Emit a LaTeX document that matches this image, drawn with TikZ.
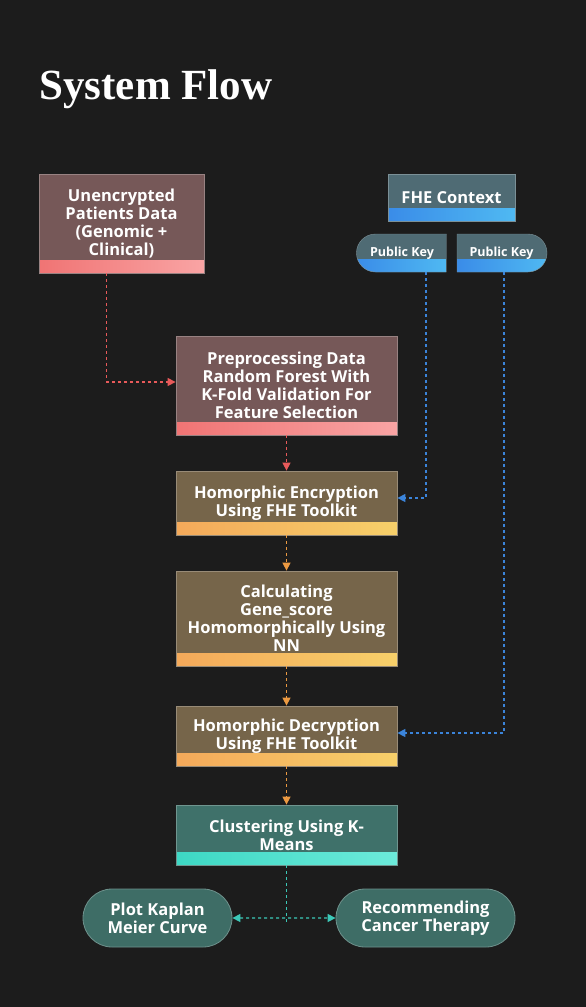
\documentclass[tikz,border=0pt]{standalone}
\usepackage{fontspec}
\setmainfont{Open Sans}
\newfontfamily\titlefont{Liberation Serif}
\usetikzlibrary{positioning,shapes.misc,arrows.meta}
\definecolor{bgcol}{HTML}{1C1C1C}
\definecolor{mauve}{HTML}{765858}
\definecolor{olive}{HTML}{76654A}
\definecolor{slate}{HTML}{4F6B74}
\definecolor{tealbox}{HTML}{3F716A}
\definecolor{tealoval}{HTML}{3E6D66}
\definecolor{pinkA}{HTML}{F07474}
\definecolor{pinkB}{HTML}{F9A4A4}
\definecolor{orangeA}{HTML}{F4A95A}
\definecolor{orangeB}{HTML}{F7D06A}
\definecolor{blueA}{HTML}{3A8CE8}
\definecolor{blueB}{HTML}{4FB9F2}
\definecolor{cyanA}{HTML}{3DD8C4}
\definecolor{cyanB}{HTML}{6CEADA}
\definecolor{redline}{HTML}{E85A5A}
\definecolor{blueline}{HTML}{3B84DA}
\definecolor{orangeline}{HTML}{EC9A42}
\definecolor{tealline}{HTML}{3CC9B8}

\begin{document}
\begin{tikzpicture}[x=1pt, y=-1pt,
		txt/.style={text=white, inner sep=0pt, align=center, font=\fontsize{16.5}{18}\selectfont\bfseries},
		stripe/.style 2 args={path picture={\shade[left color=#1, right color=#2]
			([yshift=13pt]path picture bounding box.south west) rectangle (path picture bounding box.south east);}},
		stepbox/.style={txt, draw=#1!75!white, line width=.8pt, fill=#1, minimum width=221pt},
		keybox/.style={txt, rounded rectangle, draw=slate!75!white, fill=slate, minimum width=90pt,
			minimum height=38pt, font=\fontsize{12.5}{15}\selectfont\bfseries, stripe={blueA}{blueB}},
		oval/.style={txt, rounded rectangle, draw=tealoval!75!white, line width=.8pt, fill=tealoval, minimum height=58pt},
		flow/.style={#1, line width=1.4pt, dash pattern=on 3pt off 3pt, -{Triangle[length=8pt, width=8pt]}}]
	\fill[bgcol] (0,0) rectangle (586,1007);
	\node[anchor=base west, text=white, font=\titlefont\fontsize{43}{43}\selectfont\bfseries] (title) at (36,99) {System Flow};
	% input side
	\node[stepbox=mauve, minimum width=165pt, minimum height=99pt, stripe={pinkA}{pinkB}] (raw) at (121.5,223.5) {Unencrypted\\Patients Data\\(Genomic +\\Clinical)};
	\node[stepbox=slate, minimum width=127pt, minimum height=47pt, stripe={blueA}{blueB}] (ctx) at (451.5,197.5) {FHE Context};
	\node[keybox, rounded rectangle right arc=none] (pkA) at (402,253) {Public Key};
	\node[keybox, rounded rectangle left arc=none] (pkB) at (501.5,253) {Public Key};
	% main column
	\node[stepbox=mauve, minimum height=99pt, stripe={pinkA}{pinkB}] (prep) at (286.5,385.5) {Preprocessing Data\\Random Forest With\\K-Fold Validation For\\Feature Selection};
	\node[stepbox=olive, minimum height=64pt, stripe={orangeA}{orangeB}] (enc) at (286.5,503) {Homorphic Encryption\\Using FHE Toolkit};
	\node[stepbox=olive, minimum height=95pt, stripe={orangeA}{orangeB}] (score) at (286.5,618.5) {Calculating\\Gene\_score\\Homomorphically Using\\NN};
	\node[stepbox=olive, minimum height=60pt, stripe={orangeA}{orangeB}] (dec) at (286.5,736) {Homorphic Decryption\\Using FHE Toolkit};
	\node[stepbox=tealbox, minimum height=60pt, stripe={cyanA}{cyanB}] (clust) at (286.5,835) {Clustering Using K-\\Means};
	\node[oval, minimum width=149pt] (km) at (157.5,918) {Plot Kaplan\\Meier Curve};
	\node[oval, minimum width=179pt] (ther) at (425.5,918) {Recommending\\Cancer Therapy};
	\coordinate (clend) at (286.5,925);
	% connectors
	\draw[flow=redline] ([xshift=-15pt]raw.south) |- ([yshift=3.5pt]prep.west);
	\draw[flow=redline] (prep) -- (enc);
	\draw[flow=blueline] ([xshift=24pt]pkA.south) |- ([yshift=5pt]enc.east);
	\draw[flow=blueline] ([xshift=2.5pt]pkB.south) |- ([yshift=3pt]dec.east);
	\draw[flow=orangeline] (enc) -- (score);
	\draw[flow=orangeline] (score) -- (dec);
	\draw[flow=orangeline] (dec) -- (clust);
	\draw[flow=tealline, -] (clust) -- (clend);
	\draw[flow=tealline, {Triangle[length=8pt, width=8pt]}-{Triangle[length=8pt, width=8pt]}] (km) -- (ther);
\end{tikzpicture}
\end{document}
